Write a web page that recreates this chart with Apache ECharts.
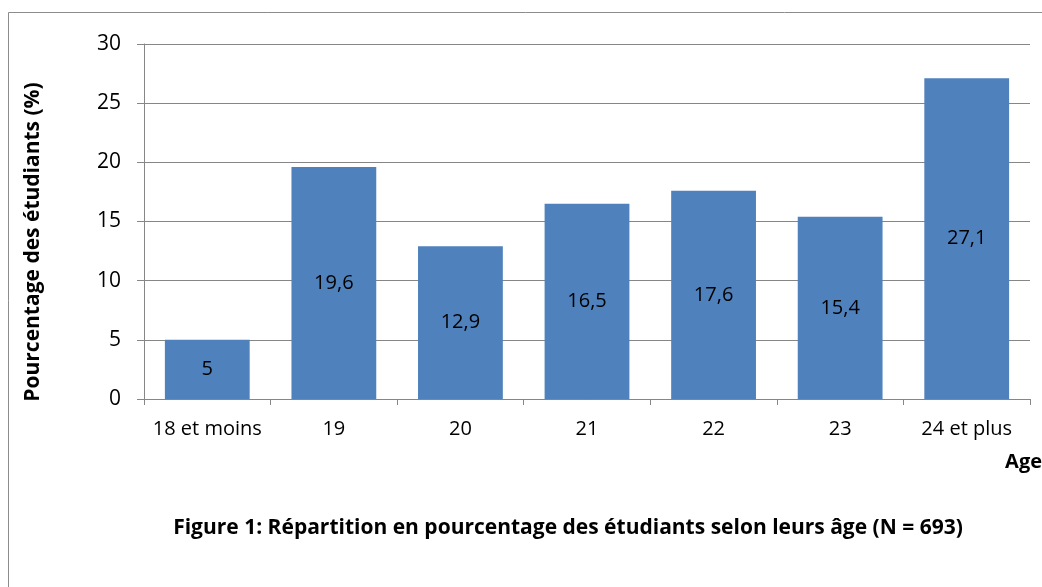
<!DOCTYPE html>
<html><head><meta charset="utf-8">
<script src="https://cdn.jsdelivr.net/npm/echarts@6/dist/echarts.min.js"></script>
<style>html,body{margin:0;padding:0;background:#fff}#c{width:1042px;height:587px}</style>
</head><body><div id="c"></div>
<script>
const categories = ['18 et moins','19','20','21','22','23','24 et plus'];
const values = [5, 19.6, 12.9, 16.5, 17.6, 15.4, 27.1];
const yTicks = [0, 5, 10, 15, 20, 25, 30];
const FONT = '"Open Sans", sans-serif';
const chart = echarts.init(document.getElementById('c'), null, {renderer:'canvas'});
chart.setOption({
  animation:false,
  backgroundColor:'#fff',
  graphic:[
    {type:'rect', shape:{x:8.5,y:12.5,width:1040,height:600}, style:{fill:'none',stroke:'#8c8c8c',lineWidth:1}, silent:true},
    {type:'text', x:1042, y:462, style:{text:'Age', font:'bold 20px '+FONT, fill:'#000', align:'right', verticalAlign:'middle'}},
    {type:'text', x:568, y:528, style:{text:'Figure 1: Répartition en pourcentage des étudiants selon leurs âge (N = 693)', font:'bold 21px '+FONT, fill:'#000', align:'center', verticalAlign:'middle'}},
    {type:'text', x:33, y:242, rotation:Math.PI/2, style:{text:'Pourcentage des étudiants (%)', font:'bold 21px '+FONT, fill:'#000', align:'center', verticalAlign:'middle'}},
  ],
  grid:{left:144, right:12, top:44, bottom:188, containLabel:false},
  xAxis:{
    type:'category', data:categories,
    axisLine:{lineStyle:{color:'#868686'}},
    axisTick:{show:true, length:6, lineStyle:{color:'#868686'}},
    axisLabel:{color:'#000', fontSize:20, fontFamily:FONT, margin:20, interval:0}
  },
  yAxis:{
    type:'value', min:yTicks[0], max:yTicks[yTicks.length-1], interval:5,
    axisLine:{show:true, lineStyle:{color:'#868686'}},
    axisTick:{show:true, length:7, lineStyle:{color:'#868686'}},
    splitLine:{lineStyle:{color:'#868686'}},
    axisLabel:{color:'#000', fontSize:21, fontFamily:FONT, margin:23}
  },
  series:[{
    type:'bar', data:values, barCategoryGap:'33%',
    itemStyle:{color:'#4F81BD'},
    label:{show:true, position:'inside', color:'#000', fontSize:20, fontFamily:FONT,
      formatter:p=>String(p.value).replace('.',',')}
  }]
});
</script></body></html>
